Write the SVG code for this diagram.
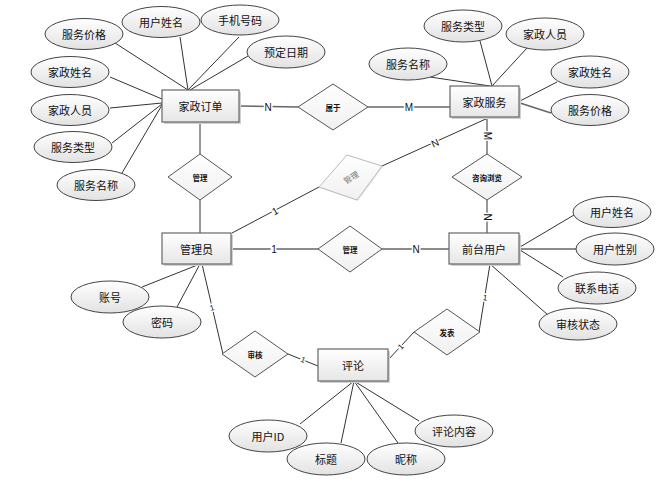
<svg xmlns="http://www.w3.org/2000/svg" width="668" height="483" viewBox="0 0 668 483">
<defs>
<linearGradient id="gEll" x1="0" y1="0" x2="0" y2="1">
<stop offset="0" stop-color="#ffffff"/><stop offset="1" stop-color="#e2e2e2"/>
</linearGradient>
<linearGradient id="gRect" x1="0" y1="0" x2="0" y2="1">
<stop offset="0" stop-color="#ffffff"/><stop offset="1" stop-color="#e6e6e6"/>
</linearGradient>
<linearGradient id="gDia" x1="0" y1="0" x2="0" y2="1">
<stop offset="0" stop-color="#ffffff"/><stop offset="1" stop-color="#f0f0f0"/>
</linearGradient>
</defs>
<style>
.ell{fill:url(#gEll);stroke:#444;stroke-width:1}
.ent{fill:url(#gRect);stroke:#666;stroke-width:1.2}
.sh{fill:#d0d0d0;stroke:none}
.dia{fill:url(#gDia);stroke:#555;stroke-width:1}
.t{font-family:"Noto Sans CJK SC","Liberation Sans",sans-serif;font-size:11px;fill:#111;text-anchor:middle;dominant-baseline:central}
.dt{font-family:"Noto Sans CJK SC","Liberation Sans",sans-serif;font-size:7.5px;font-weight:bold;fill:#111;text-anchor:middle;dominant-baseline:central}
.ln{stroke:#333;stroke-width:1;fill:none}
.lnb{stroke:#666;stroke-width:1.6;fill:none}
.lb{font-family:"Liberation Sans",sans-serif;font-size:10px;fill:#111;text-anchor:middle;dominant-baseline:central;stroke:#fff;stroke-width:3;paint-order:stroke}
.lbs{font-family:"Liberation Sans",sans-serif;font-size:8px;fill:#111;text-anchor:middle;dominant-baseline:central;stroke:#fff;stroke-width:3;paint-order:stroke}
</style>
<rect width="668" height="483" fill="#fff"/>

<g id="connectors">
<line class="ln" x1="115" y1="43" x2="188" y2="90"/>
<line class="ln" x1="180" y1="37" x2="188" y2="90"/>
<line class="ln" x1="239" y1="37" x2="188" y2="90"/>
<line class="ln" x1="248" y1="56" x2="190" y2="90"/>
<line class="ln" x1="110" y1="77" x2="162" y2="99"/>
<line class="ln" x1="110" y1="108" x2="162" y2="103"/>
<line class="ln" x1="112" y1="143" x2="162" y2="104"/>
<line class="ln" x1="122" y1="173" x2="162" y2="105"/>
<line class="lnb" x1="239" y1="106" x2="298" y2="107"/>
<line class="ln" x1="200" y1="122" x2="200" y2="154"/>
<line class="ln" x1="200" y1="200" x2="200" y2="233"/>
<line class="lnb" x1="368" y1="107" x2="450" y2="107"/>
<line class="ln" x1="480" y1="41" x2="492" y2="86"/>
<line class="ln" x1="527" y1="48" x2="492" y2="86"/>
<line class="ln" x1="430" y1="77" x2="490" y2="86"/>
<line class="ln" x1="557" y1="82" x2="520" y2="101"/>
<line class="lnb" x1="551" y1="113" x2="520" y2="103"/>
<line class="ln" x1="487" y1="117" x2="487" y2="154"/>
<line class="ln" x1="488" y1="118" x2="382" y2="166"/>
<line class="ln" x1="319" y1="187" x2="232" y2="233"/>
<line class="ln" x1="487" y1="200" x2="487" y2="233"/>
<line class="lnb" x1="231" y1="249" x2="318" y2="249"/>
<line class="lnb" x1="382" y1="249" x2="449" y2="249"/>
<line class="ln" x1="142" y1="287" x2="200" y2="264"/>
<line class="ln" x1="177" y1="307" x2="200" y2="264"/>
<line class="ln" x1="202" y1="264" x2="223" y2="354"/>
<line class="ln" x1="288" y1="354" x2="318" y2="366"/>
<line class="ln" x1="388" y1="360" x2="414" y2="332"/>
<line class="ln" x1="479" y1="332" x2="490" y2="264"/>
<line class="ln" x1="574" y1="215" x2="520" y2="247"/>
<line class="lnb" x1="576" y1="249" x2="519" y2="249"/>
<line class="ln" x1="563" y1="277" x2="520" y2="250"/>
<line class="ln" x1="548" y1="315" x2="490" y2="264"/>
<line class="ln" x1="354" y1="381" x2="300" y2="424"/>
<line class="ln" x1="354" y1="381" x2="341" y2="443"/>
<line class="ln" x1="354" y1="381" x2="398" y2="443"/>
<line class="ln" x1="354" y1="381" x2="419" y2="421"/>
<text class="lb" x="268" y="107">N</text>
<text class="lb" x="409" y="107">M</text>
<text class="lb" transform="translate(487,136) rotate(90)">M</text>
<text class="lb" transform="translate(435,143) rotate(-24)">N</text>
<text class="lb" transform="translate(487,217) rotate(90)">N</text>
<text class="lb" transform="translate(275,211) rotate(-28)">1</text>
<text class="lb" x="274" y="249">1</text>
<text class="lb" x="416" y="249">N</text>
<text class="lbs" transform="translate(212,308) rotate(-14)">1</text>
<text class="lbs" transform="translate(303,360) rotate(22)">1</text>
<text class="lbs" transform="translate(401,347) rotate(-47)">1</text>
<text class="lbs" transform="translate(485,298) rotate(9)">1</text>
</g>

<g id="order">
<rect class="sh" x="164" y="92" width="77" height="32"/>
<rect class="ent" x="162" y="90" width="77" height="32"/>
<text class="t" x="200.5" y="106">家政订单</text>
</g>
<g id="service">
<rect class="sh" x="452" y="88" width="69" height="31"/>
<rect class="ent" x="450" y="86" width="69" height="31"/>
<text class="t" x="484.5" y="101.5">家政服务</text>
</g>
<g id="admin">
<rect class="sh" x="164" y="235" width="69" height="31"/>
<rect class="ent" x="162" y="233" width="69" height="31"/>
<text class="t" x="196.5" y="248.5">管理员</text>
</g>
<g id="frontuser">
<rect class="sh" x="451" y="235" width="70" height="31"/>
<rect class="ent" x="449" y="233" width="70" height="31"/>
<text class="t" x="484" y="248.5">前台用户</text>
</g>
<g id="comment">
<rect class="sh" x="320" y="351" width="70" height="32"/>
<rect class="ent" x="318" y="349" width="70" height="32"/>
<text class="t" x="353" y="365">评论</text>
</g>

<g id="rel-belong">
<polygon class="dia" points="333,84 368,107 333,130 298,107"/>
<text class="dt" x="333" y="107">属于</text>
</g>
<g id="rel-manage-top">
<polygon class="dia" points="200,154 232,177 200,200 168,177"/>
<text class="dt" x="200" y="177">管理</text>
</g>
<g id="rel-browse">
<polygon class="dia" points="487,154 522,177 487,200 452,177"/>
<text class="dt" x="487" y="177">咨询浏览</text>
</g>
<g id="rel-manage-mid">
<polygon class="dia" points="350,226 382,249 350,272 318,249"/>
<text class="dt" x="350" y="249">管理</text>
</g>
<g id="rel-audit">
<polygon class="dia" points="255,331 288,354 255,377 222,354"/>
<text class="dt" x="255" y="354">审核</text>
</g>
<g id="rel-post">
<polygon class="dia" points="447,309 480,332 447,355 414,332"/>
<text class="dt" x="447" y="332">发表</text>
</g>
<g id="rel-manage-grey">
<polygon points="348,156 383,167 358,201 320,188" fill="#e8e8e8" stroke="none"/>
<polygon points="347,155 382,166 357,200 319,187" fill="url(#gDia)" stroke="#bbb" stroke-width="1"/>
<text transform="translate(351,177) rotate(-32)" font-family="Noto Sans CJK SC, Liberation Sans, sans-serif" font-size="8" fill="#777" text-anchor="middle" dominant-baseline="central">管理</text>
</g>

<g id="attr-order-price"><ellipse class="ell" cx="84" cy="34" rx="39" ry="15.5"/><text class="t" x="84" y="34">服务价格</text></g>
<g id="attr-order-username"><ellipse class="ell" cx="161" cy="22" rx="39" ry="15.5"/><text class="t" x="161" y="22">用户姓名</text></g>
<g id="attr-order-phone"><ellipse class="ell" cx="240" cy="20" rx="39" ry="15"/><text class="t" x="240" y="20">手机号码</text></g>
<g id="attr-order-date"><ellipse class="ell" cx="286" cy="52" rx="39" ry="16"/><text class="t" x="286" y="52">预定日期</text></g>
<g id="attr-order-hkname"><ellipse class="ell" cx="70" cy="72" rx="39" ry="15.5"/><text class="t" x="70" y="72">家政姓名</text></g>
<g id="attr-order-staff"><ellipse class="ell" cx="70" cy="110" rx="39" ry="15.5"/><text class="t" x="70" y="110">家政人员</text></g>
<g id="attr-order-type"><ellipse class="ell" cx="73" cy="147" rx="39" ry="15.5"/><text class="t" x="73" y="147">服务类型</text></g>
<g id="attr-order-sname"><ellipse class="ell" cx="96" cy="185" rx="39" ry="15.5"/><text class="t" x="96" y="185">服务名称</text></g>

<g id="attr-svc-type"><ellipse class="ell" cx="463" cy="26" rx="39" ry="16"/><text class="t" x="463" y="26">服务类型</text></g>
<g id="attr-svc-staff"><ellipse class="ell" cx="545" cy="34" rx="39" ry="16"/><text class="t" x="545" y="34">家政人员</text></g>
<g id="attr-svc-sname"><ellipse class="ell" cx="408" cy="64" rx="39" ry="16"/><text class="t" x="408" y="64">服务名称</text></g>
<g id="attr-svc-hkname"><ellipse class="ell" cx="590" cy="72" rx="39" ry="16"/><text class="t" x="590" y="72">家政姓名</text></g>
<g id="attr-svc-price"><ellipse class="ell" cx="590" cy="110" rx="39" ry="15.5"/><text class="t" x="590" y="110">服务价格</text></g>

<g id="attr-admin-account"><ellipse class="ell" cx="110" cy="297" rx="39" ry="16"/><text class="t" x="110" y="297">账号</text></g>
<g id="attr-admin-pwd"><ellipse class="ell" cx="162" cy="322" rx="39" ry="16"/><text class="t" x="162" y="322">密码</text></g>

<g id="attr-user-name"><ellipse class="ell" cx="612" cy="212" rx="39" ry="15.5"/><text class="t" x="612" y="212">用户姓名</text></g>
<g id="attr-user-gender"><ellipse class="ell" cx="615" cy="249" rx="39" ry="16"/><text class="t" x="615" y="249">用户性别</text></g>
<g id="attr-user-phone"><ellipse class="ell" cx="597" cy="288" rx="39" ry="16"/><text class="t" x="597" y="288">联系电话</text></g>
<g id="attr-user-status"><ellipse class="ell" cx="578" cy="324" rx="39" ry="16"/><text class="t" x="578" y="324">审核状态</text></g>

<g id="attr-cmt-uid"><ellipse class="ell" cx="268" cy="436" rx="39" ry="16"/><text class="t" x="268" y="436">用户ID</text></g>
<g id="attr-cmt-title"><ellipse class="ell" cx="326" cy="459" rx="39" ry="16"/><text class="t" x="326" y="459">标题</text></g>
<g id="attr-cmt-nick"><ellipse class="ell" cx="406" cy="459" rx="39" ry="16"/><text class="t" x="406" y="459">昵称</text></g>
<g id="attr-cmt-content"><ellipse class="ell" cx="454" cy="431" rx="39" ry="16"/><text class="t" x="454" y="431">评论内容</text></g>
</svg>
